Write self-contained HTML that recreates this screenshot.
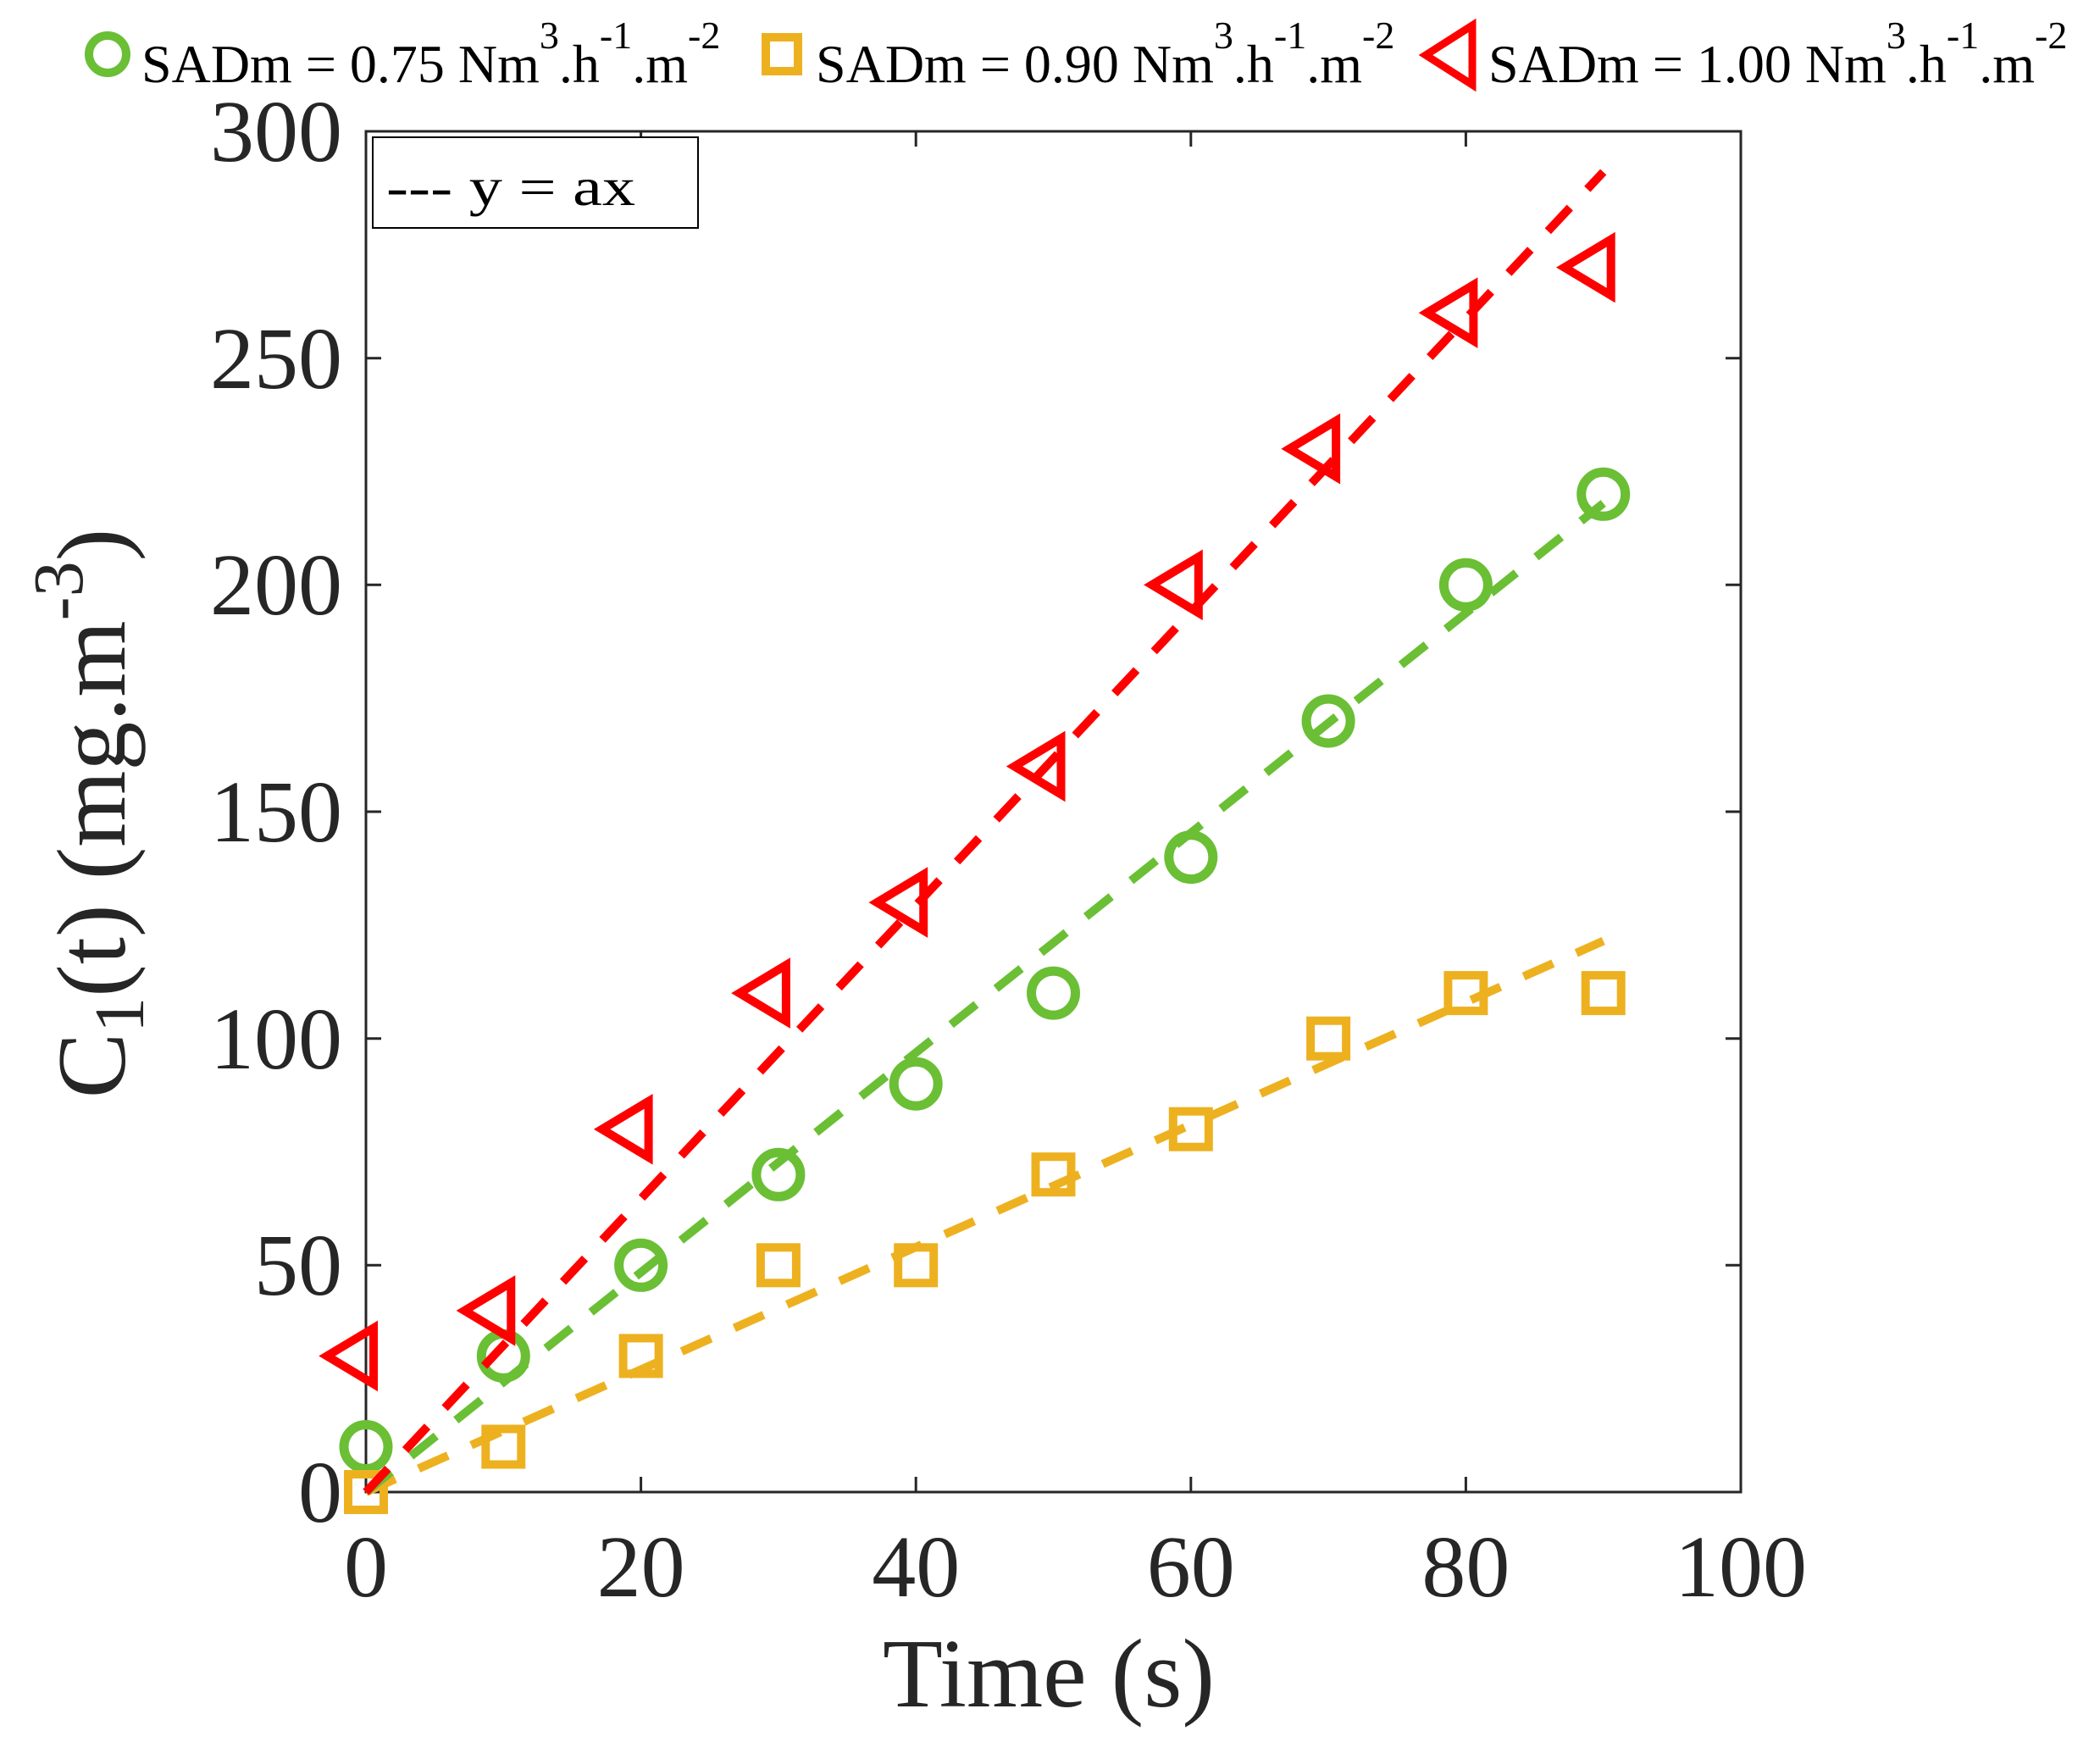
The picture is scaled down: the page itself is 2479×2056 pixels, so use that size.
<!DOCTYPE html>
<html><head><meta charset="utf-8"><style>html,body{margin:0;padding:0;background:#fff}svg{display:block}</style></head>
<body>
<svg width="2479" height="2056" viewBox="0 0 2479 2056" xmlns="http://www.w3.org/2000/svg" font-family="'Liberation Serif', serif">
<rect width="2479" height="2056" fill="#fff"/>
<!-- axes box -->
<rect x="432" y="155" width="1623" height="1606" fill="none" stroke="#262626" stroke-width="3"/>
<g stroke="#262626" stroke-width="3">
<!-- x ticks -->
<line x1="756.6" y1="1761" x2="756.6" y2="1743"/><line x1="1081.2" y1="1761" x2="1081.2" y2="1743"/><line x1="1405.8" y1="1761" x2="1405.8" y2="1743"/><line x1="1730.4" y1="1761" x2="1730.4" y2="1743"/>
<line x1="756.6" y1="155" x2="756.6" y2="173"/><line x1="1081.2" y1="155" x2="1081.2" y2="173"/><line x1="1405.8" y1="155" x2="1405.8" y2="173"/><line x1="1730.4" y1="155" x2="1730.4" y2="173"/>
<!-- y ticks -->
<line x1="432" y1="1493.3" x2="450" y2="1493.3"/><line x1="432" y1="1225.7" x2="450" y2="1225.7"/><line x1="432" y1="958" x2="450" y2="958"/><line x1="432" y1="690.3" x2="450" y2="690.3"/><line x1="432" y1="422.7" x2="450" y2="422.7"/>
<line x1="2055" y1="1493.3" x2="2037" y2="1493.3"/><line x1="2055" y1="1225.7" x2="2037" y2="1225.7"/><line x1="2055" y1="958" x2="2037" y2="958"/><line x1="2055" y1="690.3" x2="2037" y2="690.3"/><line x1="2055" y1="422.7" x2="2037" y2="422.7"/>
</g>
<!-- tick labels -->
<g fill="#262626" font-size="104" text-anchor="middle">
<text x="432" y="1884">0</text><text x="756.6" y="1884">20</text><text x="1081.2" y="1884">40</text><text x="1405.8" y="1884">60</text><text x="1730.4" y="1884">80</text><text x="2055" y="1884">100</text>
</g>
<g fill="#262626" font-size="104" text-anchor="end">
<text x="404" y="1796">0</text><text x="404" y="1528">50</text><text x="404" y="1261">100</text><text x="404" y="993">150</text><text x="404" y="725">200</text><text x="404" y="458">250</text><text x="404" y="190">300</text>
</g>
<text x="1238" y="2014" font-size="116" fill="#262626" text-anchor="middle">Time (s)</text>
<text transform="translate(147,960) rotate(-90)" font-size="116" fill="#262626" text-anchor="middle">C<tspan font-size="84" dy="22">1</tspan><tspan dy="-22">(t) (mg.m</tspan><tspan font-size="84" dy="-50">-3</tspan><tspan dy="50">)</tspan></text>

<!-- markers -->
<g fill="none" stroke="#6abf35" stroke-width="11">
<circle cx="432" cy="1707.5" r="26"/><circle cx="594.3" cy="1600.4" r="26"/><circle cx="756.6" cy="1493.3" r="26"/><circle cx="918.9" cy="1386.3" r="26"/><circle cx="1081.2" cy="1279.2" r="26"/><circle cx="1243.5" cy="1172.1" r="26"/><circle cx="1405.8" cy="1011.6" r="26"/><circle cx="1568.1" cy="851" r="26"/><circle cx="1730.4" cy="690.3" r="26"/><circle cx="1892.7" cy="583.3" r="26"/>
</g>
<g fill="none" stroke="#edb120" stroke-width="10">
<rect x="411" y="1740" width="42" height="42"/><rect x="573.3" y="1686.5" width="42" height="42"/><rect x="735.6" y="1579.4" width="42" height="42"/><rect x="897.9" y="1472.3" width="42" height="42"/><rect x="1060.2" y="1472.3" width="42" height="42"/><rect x="1222.5" y="1365.2" width="42" height="42"/><rect x="1384.8" y="1311.7" width="42" height="42"/><rect x="1547.1" y="1204.7" width="42" height="42"/><rect x="1709.4" y="1151.1" width="42" height="42"/><rect x="1871.7" y="1151.1" width="42" height="42"/>
</g>
<g fill="none" stroke="#ff0000" stroke-width="10" stroke-linejoin="miter">
<path id="tri" d="M-46 0 L9 -33 L9 33 Z" transform="translate(432,1600.4)"/>
<path d="M-46 0 L9 -33 L9 33 Z" transform="translate(594.3,1546.9)"/>
<path d="M-46 0 L9 -33 L9 33 Z" transform="translate(756.6,1332.8)"/>
<path d="M-46 0 L9 -33 L9 33 Z" transform="translate(918.9,1172.1)"/>
<path d="M-46 0 L9 -33 L9 33 Z" transform="translate(1081.2,1065.1)"/>
<path d="M-46 0 L9 -33 L9 33 Z" transform="translate(1243.5,904.5)"/>
<path d="M-46 0 L9 -33 L9 33 Z" transform="translate(1405.8,690.3)"/>
<path d="M-46 0 L9 -33 L9 33 Z" transform="translate(1568.1,529.7)"/>
<path d="M-46 0 L9 -33 L9 33 Z" transform="translate(1730.4,369.2)"/>
<path d="M-46 0 L9 -33 L9 33 Z" transform="translate(1892.7,315.6)"/>
</g>
<!-- fit lines -->
<g fill="none" stroke-width="10" stroke-dasharray="38 30">
<line x1="432" y1="1761" x2="1892.7" y2="1110.6" stroke="#edb120"/>
<line x1="432" y1="1761" x2="1892.7" y2="594" stroke="#6abf35"/>
<line x1="432" y1="1761" x2="1892.7" y2="203" stroke="#ff0000"/>
</g>

<!-- inner legend -->
<rect x="440" y="162" width="384" height="107" fill="#fff" stroke="#000" stroke-width="2"/>
<text x="456" y="242" font-size="64" fill="#000" textLength="294" lengthAdjust="spacingAndGlyphs">--- y = ax</text>

<!-- top legend -->
<circle cx="127" cy="64" r="22" fill="none" stroke="#6abf35" stroke-width="10"/>
<rect x="904" y="44" width="38" height="40" fill="none" stroke="#edb120" stroke-width="10"/>
<path d="M1683 65 L1738 30 L1738 100 Z" fill="none" stroke="#ff0000" stroke-width="9"/>
<g font-size="64" fill="#000">
<text x="167" y="97">SADm = 0.75 Nm<tspan font-size="46" dy="-40">3</tspan><tspan dy="40">.h</tspan><tspan font-size="46" dy="-40">-1</tspan><tspan dy="40">.m</tspan><tspan font-size="46" dy="-40">-2</tspan></text>
<text x="963" y="97">SADm = 0.90 Nm<tspan font-size="46" dy="-40">3</tspan><tspan dy="40">.h</tspan><tspan font-size="46" dy="-40">-1</tspan><tspan dy="40">.m</tspan><tspan font-size="46" dy="-40">-2</tspan></text>
<text x="1757" y="97">SADm = 1.00 Nm<tspan font-size="46" dy="-40">3</tspan><tspan dy="40">.h</tspan><tspan font-size="46" dy="-40">-1</tspan><tspan dy="40">.m</tspan><tspan font-size="46" dy="-40">-2</tspan></text>
</g>
</svg>
</body></html>
